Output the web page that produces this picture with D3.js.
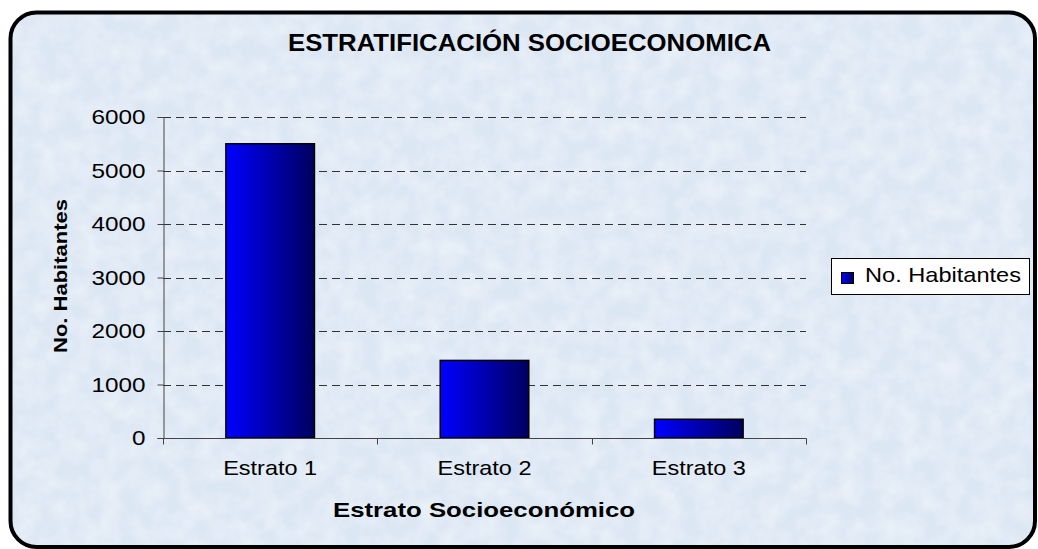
<!DOCTYPE html>
<html>
<head>
<meta charset="utf-8">
<script src="https://cdn.jsdelivr.net/npm/d3@7"></script>
<style>
  html, body { margin: 0; padding: 0; background: #ffffff; }
  svg { display: block; }
  text { font-family: "Liberation Sans", Arial, sans-serif; fill: #000; }
</style>
</head>
<body>
<svg id="chart" width="1038" height="549"></svg>
<script>
// ---- Data ----
const categories = ["Estrato 1", "Estrato 2", "Estrato 3"];
const habitantes = [5500, 1450, 350];
const yTicks = [0, 1000, 2000, 3000, 4000, 5000, 6000];
const seriesName = "No. Habitantes";
const titleText = "ESTRATIFICACIÓN SOCIOECONOMICA";
const xAxisTitle = "Estrato Socioeconómico";
const yAxisTitle = "No. Habitantes";

const svg = d3.select("#chart");

const defs = svg.append("defs");
// background texture
const f = defs.append("filter").attr("id", "tex").attr("x", 0).attr("y", 0).attr("width", "100%").attr("height", "100%");
f.append("feTurbulence").attr("type", "fractalNoise").attr("baseFrequency", "0.05").attr("numOctaves", 3).attr("seed", 7).attr("result", "n");
f.append("feColorMatrix").attr("in", "n").attr("type", "matrix")
  .attr("values", "0 0 0 0 1  0 0 0 0 1  0 0 0 0 1  0 0 0 -1.4 1.0").attr("result", "w");
f.append("feComposite").attr("in", "w").attr("in2", "SourceGraphic").attr("operator", "in");

const grad = defs.append("linearGradient").attr("id", "barGrad").attr("x1", "0").attr("x2", "1").attr("y1", "0").attr("y2", "0");
grad.append("stop").attr("offset", "0%").attr("stop-color", "#0000ff");
grad.append("stop").attr("offset", "100%").attr("stop-color", "#00005e");

// outer frame
const frame = { x: 10.5, y: 12.5, w: 1024.5, h: 534.5, r: 26 };
svg.append("rect").attr("x", frame.x).attr("y", frame.y).attr("width", frame.w).attr("height", frame.h)
  .attr("rx", frame.r).attr("fill", "#dce7f4");
svg.append("rect").attr("x", frame.x).attr("y", frame.y).attr("width", frame.w).attr("height", frame.h)
  .attr("rx", frame.r).attr("fill", "#ffffff").attr("opacity", 0.45).attr("filter", "url(#tex)");
svg.append("rect").attr("x", frame.x).attr("y", frame.y).attr("width", frame.w).attr("height", frame.h)
  .attr("rx", frame.r).attr("fill", "none").attr("stroke", "#000").attr("stroke-width", 4);

// scales
const x = d3.scaleBand().domain(categories).range([163, 806]).paddingInner(0).paddingOuter(0);
const y = d3.scaleLinear().domain([0, 6000]).range([438, 117]);
const barW = x.bandwidth() / 2.42;

// gridlines
svg.append("g").selectAll("line").data(yTicks.filter(d => d > 0)).join("line")
  .attr("x1", 163).attr("x2", 806)
  .attr("y1", d => Math.round(y(d)) + 0.5).attr("y2", d => Math.round(y(d)) + 0.5)
  .attr("stroke", "#333").attr("stroke-width", 1).attr("stroke-dasharray", "8,5");

// bars
svg.append("g").selectAll("rect").data(habitantes).join("rect")
  .attr("x", (d, i) => x(categories[i]) + (x.bandwidth() - barW) / 2)
  .attr("y", d => y(d))
  .attr("width", barW)
  .attr("height", d => y(0) - y(d))
  .attr("fill", "url(#barGrad)")
  .attr("stroke", "#000").attr("stroke-width", 1.5);

// y axis
const yAxis = svg.append("g").attr("transform", "translate(163.5,0)")
  .call(d3.axisLeft(y).tickValues(yTicks).tickSize(6).tickPadding(12).tickFormat(d3.format("d")));
yAxis.select(".domain").attr("stroke", "#444");
yAxis.selectAll(".tick line").attr("stroke", "#444");
yAxis.selectAll(".tick text").attr("font-size", 21).attr("dy", "0.33em")
  .attr("x", -18)
  .attr("textLength", function(d) { return String(d).length * 13.5; })
  .attr("lengthAdjust", "spacingAndGlyphs")
  .style("font-family", "'Liberation Sans', Arial, sans-serif").style("fill", "#000");

// x axis
const xAxis = svg.append("g").attr("transform", "translate(0,438.5)")
  .call(d3.axisBottom(x).tickSize(0).tickPadding(0));
xAxis.select(".domain").attr("stroke", "#444").attr("d", "M163,0H806.5V6");
xAxis.selectAll(".tick text").attr("font-size", 21).attr("y", 36.5).attr("dy", 0)
  .attr("textLength", 94).attr("lengthAdjust", "spacingAndGlyphs")
  .style("font-family", "'Liberation Sans', Arial, sans-serif").style("fill", "#000");
// category boundary ticks
const bounds = categories.map(c => x(c));
xAxis.append("g").selectAll("line").data(bounds).join("line")
  .attr("x1", d => Math.round(d) + 0.5).attr("x2", d => Math.round(d) + 0.5)
  .attr("y1", 0).attr("y2", 6).attr("stroke", "#444");

// titles
svg.append("text").attr("x", 529.5).attr("y", 51).attr("text-anchor", "middle")
  .attr("font-size", 23).attr("font-weight", "bold")
  .attr("textLength", 483).attr("lengthAdjust", "spacingAndGlyphs").text(titleText);

svg.append("text").attr("x", 484).attr("y", 517).attr("text-anchor", "middle")
  .attr("font-size", 21).attr("font-weight", "bold")
  .attr("textLength", 302).attr("lengthAdjust", "spacingAndGlyphs").text(xAxisTitle);

svg.append("text").attr("transform", "translate(67,276) rotate(-90)").attr("text-anchor", "middle")
  .attr("font-size", 19).attr("font-weight", "bold")
  .attr("textLength", 154).attr("lengthAdjust", "spacingAndGlyphs").text(yAxisTitle);

// legend
const lg = svg.append("g");
lg.append("rect").attr("x", 831.5).attr("y", 258.5).attr("width", 198).attr("height", 36)
  .attr("fill", "#ffffff").attr("stroke", "#000").attr("stroke-width", 1);
lg.append("rect").attr("x", 841.5).attr("y", 272.5).attr("width", 12).attr("height", 11)
  .attr("fill", "url(#barGrad)").attr("stroke", "#000").attr("stroke-width", 1);
lg.append("text").attr("x", 865).attr("y", 282).attr("font-size", 21)
  .attr("textLength", 156).attr("lengthAdjust", "spacingAndGlyphs").text(seriesName);
</script>
</body>
</html>
